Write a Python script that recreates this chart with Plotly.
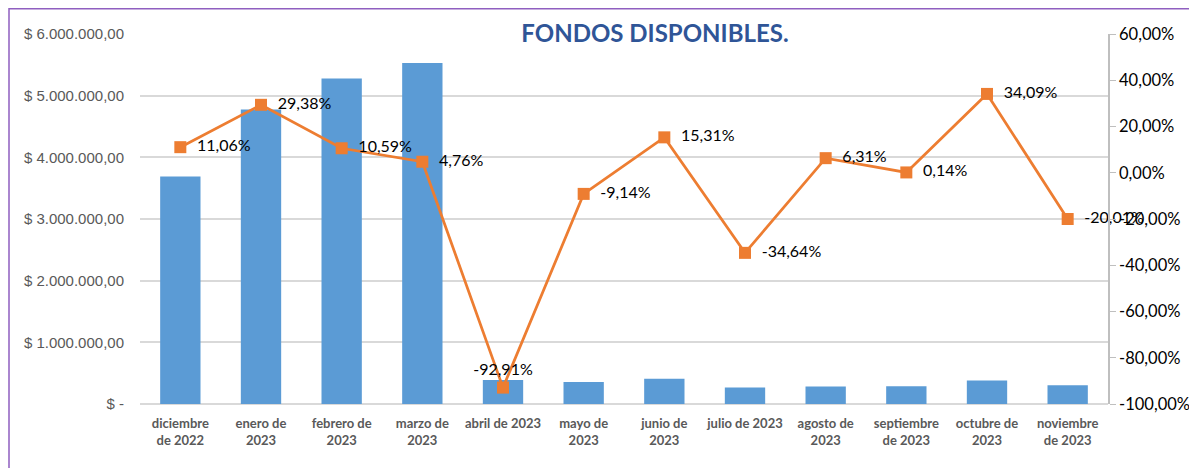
import plotly.graph_objects as go

categories = ["diciembre<br>de 2022", "enero de<br>2023", "febrero de<br>2023", "marzo de<br>2023",
              "abril de 2023", "mayo de<br>2023", "junio de<br>2023", "julio de 2023",
              "agosto de<br>2023", "septiembre<br>de 2023", "octubre de<br>2023", "noviembre<br>de 2023"]
fondos = [3690000, 4775000, 5280000, 5530000, 390000, 355000, 410000, 268000,
          285000, 286000, 383000, 306000]
variacion = [11.06, 29.38, 10.59, 4.76, -92.91, -9.14, 15.31, -34.64, 6.31, 0.14, 34.09, -20.01]
var_labels = ["11,06%", "29,38%", "10,59%", "4,76%", "-92,91%", "-9,14%", "15,31%", "-34,64%",
              "6,31%", "0,14%", "34,09%", "-20,01%"]
label_pos = ["middle right"] * 4 + ["top center"] + ["middle right"] * 7

left_vals = [0, 1000000, 2000000, 3000000, 4000000, 5000000, 6000000]
left_text = ["$ -", "$ 1.000.000,00", "$ 2.000.000,00", "$ 3.000.000,00",
             "$ 4.000.000,00", "$ 5.000.000,00", "$ 6.000.000,00"]
right_vals = [-100, -80, -60, -40, -20, 0, 20, 40, 60]
right_text = ["-100,00%", "-80,00%", "-60,00%", "-40,00%", "-20,00%", "0,00%",
              "20,00%", "40,00%", "60,00%"]

# page has an 8px body margin; work in page pixel coordinates
OFF = 8
FW, FH = 1197 - OFF, 468 - OFF
L, R, T, B = 140, 1108, 34, 404          # plot area in page coords
W, H = R - L, B - T
def px(x): return (x - L) / W
def py(y): return (B - y) / H

fig = go.Figure()
fig.add_trace(go.Bar(x=categories, y=fondos, marker=dict(color="#5B9BD5", line=dict(width=0)),
                     yaxis="y", showlegend=False, hoverinfo="skip"))
fig.add_trace(go.Scatter(x=categories, y=variacion, yaxis="y2", mode="lines+markers+text",
                         line=dict(color="#ED7D31", width=2.75),
                         marker=dict(symbol="square", size=12, color="#ED7D31"),
                         text=["  " + t if p == "middle right" else t for t, p in zip(var_labels, label_pos)],
                         textposition=label_pos,
                         textfont=dict(family="Lato, Noto Sans, sans-serif", size=16, color="#000000"),
                         cliponaxis=False, showlegend=False))

fig.add_shape(type="rect", xref="paper", yref="paper",
              x0=px(9), x1=px(1193), y0=py(480), y1=py(8.8),
              line=dict(color="#8F5FC0", width=1.5), layer="below")

fig.update_layout(
    width=FW, height=FH,
    margin=dict(l=L - OFF, r=FW - (R - OFF), t=T - OFF, b=FH - (B - OFF)),
    paper_bgcolor="white", plot_bgcolor="white",
    bargap=0.5,
    title=dict(text="<b>FONDOS DISPONIBLES.</b>", xref="container", x=(655 - OFF) / FW,
               xanchor="center", y=1 - (34 - OFF) / FH, yanchor="middle",
               font=dict(family="Lato, Noto Sans, sans-serif", size=24, color="#2F5597")),
    xaxis=dict(range=[-0.5, 11.5],
               tickfont=dict(family="Lato, Noto Sans, sans-serif", size=13, color="#595959",
                             weight="bold"),
               showgrid=False, showline=False, ticks="", tickangle=0, automargin=False,
               ticklabelstandoff=10),
    yaxis=dict(range=[0, 6000000], tickvals=left_vals, ticktext=left_text,
               tickfont=dict(family="Liberation Sans, Arial, sans-serif", size=15, color="#595959"),
               showgrid=True, gridcolor="#D9D9D9", gridwidth=1.5, zeroline=True,
               zerolinecolor="#D9D9D9", zerolinewidth=1.5, showline=False, ticks="",
               ticklabelstandoff=15, automargin=False),
    yaxis2=dict(range=[-100, 60], tickvals=right_vals, ticktext=right_text, overlaying="y",
                side="right", showgrid=False, zeroline=False,
                showline=True, linecolor="#BFBFBF", linewidth=1.5,
                ticks="outside", ticklen=6, tickcolor="#BFBFBF",
                tickfont=dict(family="Lato, Noto Sans, sans-serif", size=16.5, color="#000000"),
                automargin=False),
)

fig.write_html("out.html")
